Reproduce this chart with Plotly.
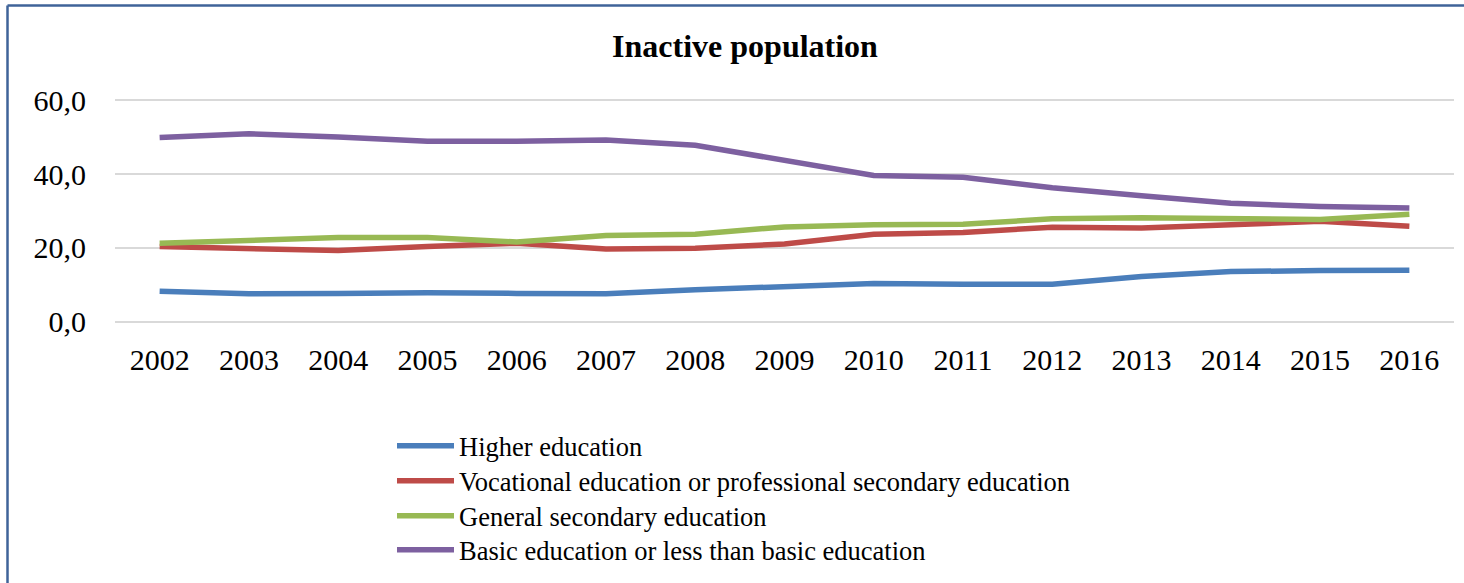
import plotly.graph_objects as go

years = ["2002", "2003", "2004", "2005", "2006", "2007", "2008", "2009",
         "2010", "2011", "2012", "2013", "2014", "2015", "2016"]

higher = [8.3, 7.6, 7.7, 7.9, 7.7, 7.6, 8.7, 9.6, 10.4, 10.2, 10.2, 12.3, 13.6, 13.9, 14.0]
vocational = [20.4, 19.7, 19.3, 20.4, 21.3, 19.7, 19.9, 21.1, 23.7, 24.2, 25.6, 25.4, 26.3, 27.2, 25.9]
general = [21.3, 22.0, 22.8, 22.8, 21.6, 23.4, 23.7, 25.7, 26.3, 26.4, 27.9, 28.2, 28.0, 27.7, 29.1]
basic = [49.9, 50.9, 50.0, 48.9, 48.9, 49.2, 47.8, 43.8, 39.6, 39.1, 36.3, 34.1, 32.1, 31.2, 30.8]

series_names = [
    "Higher education",
    "Vocational education or professional secondary education",
    "General secondary education",
    "Basic education or less than basic education",
]
series_colors = ["#4a7ebb", "#be4b48", "#98b954", "#7d60a0"]
y_ticks = [0, 20, 40, 60]

W, H = 1464, 583
L, R, T, B = 115, 10, 99, 260
pw = W - L - R
ph = H - T - B

serif = "Liberation Serif, Times New Roman, serif"

# one legend per entry so the row spacing can match the reference
legend_item_centers = [447, 482, 517, 551]
legend_ids = ["legend", "legend2", "legend3", "legend4"]

fig = go.Figure()
for name, vals, col, lid in zip(series_names, [higher, vocational, general, basic],
                                series_colors, legend_ids):
    fig.add_trace(go.Scatter(
        x=years, y=vals, name=name, mode="lines",
        line=dict(color=col, width=5.5),
        legend=lid,
    ))

legend_layout = {}
for lid, cy in zip(legend_ids, legend_item_centers):
    legend_layout[lid] = dict(
        orientation="v",
        x=(392 - L) / pw, xanchor="left",
        y=1 - (cy - 25) / H, yref="container", yanchor="top",
        font=dict(family=serif, size=26.5, color="black"),
        itemwidth=57,
        bgcolor="rgba(0,0,0,0)",
    )

fig.update_layout(
    width=W, height=H,
    margin=dict(l=L, r=R, t=T, b=B, pad=0),
    paper_bgcolor="white",
    plot_bgcolor="white",
    separators=", ",
    font=dict(family=serif, color="black", size=30),
    title=dict(
        text="<b>Inactive population</b>",
        font=dict(family=serif, size=32, color="black"),
        x=745 / W, xref="container", xanchor="center",
        y=1 - 46 / H, yref="container", yanchor="middle",
    ),
    xaxis=dict(
        type="category", range=[-0.5, 14.5],
        showgrid=False, showline=False, zeroline=False,
        ticks="", ticklabelstandoff=16,
        tickfont=dict(family=serif, size=30, color="black"),
        fixedrange=True,
    ),
    yaxis=dict(
        range=[-0.3, 60.3], tickvals=y_ticks, tickformat=".1f",
        showgrid=True, gridcolor="#d9d9d9", gridwidth=1.5,
        zeroline=False, showline=False, ticks="",
        ticklabelstandoff=28,
        tickfont=dict(family=serif, size=30, color="black"),
        fixedrange=True,
    ),
    showlegend=True,
    **legend_layout,
)

# chart border (left and top edges visible in the cropped reference)
bx = (7.5 - L) / pw
by = 1 + (T - 5.5) / ph
fig.add_shape(type="line", xref="paper", yref="paper",
              x0=bx, x1=bx, y0=by, y1=1 - (H + 20 - T) / ph,
              line=dict(color="#3f6399", width=2.5))
fig.add_shape(type="line", xref="paper", yref="paper",
              x0=bx, x1=1 + (R + 20) / pw, y0=by, y1=by,
              line=dict(color="#3f6399", width=2.5))

fig.write_html("out.html", config={"displayModeBar": False},
               post_script="document.body.style.margin='0';")
